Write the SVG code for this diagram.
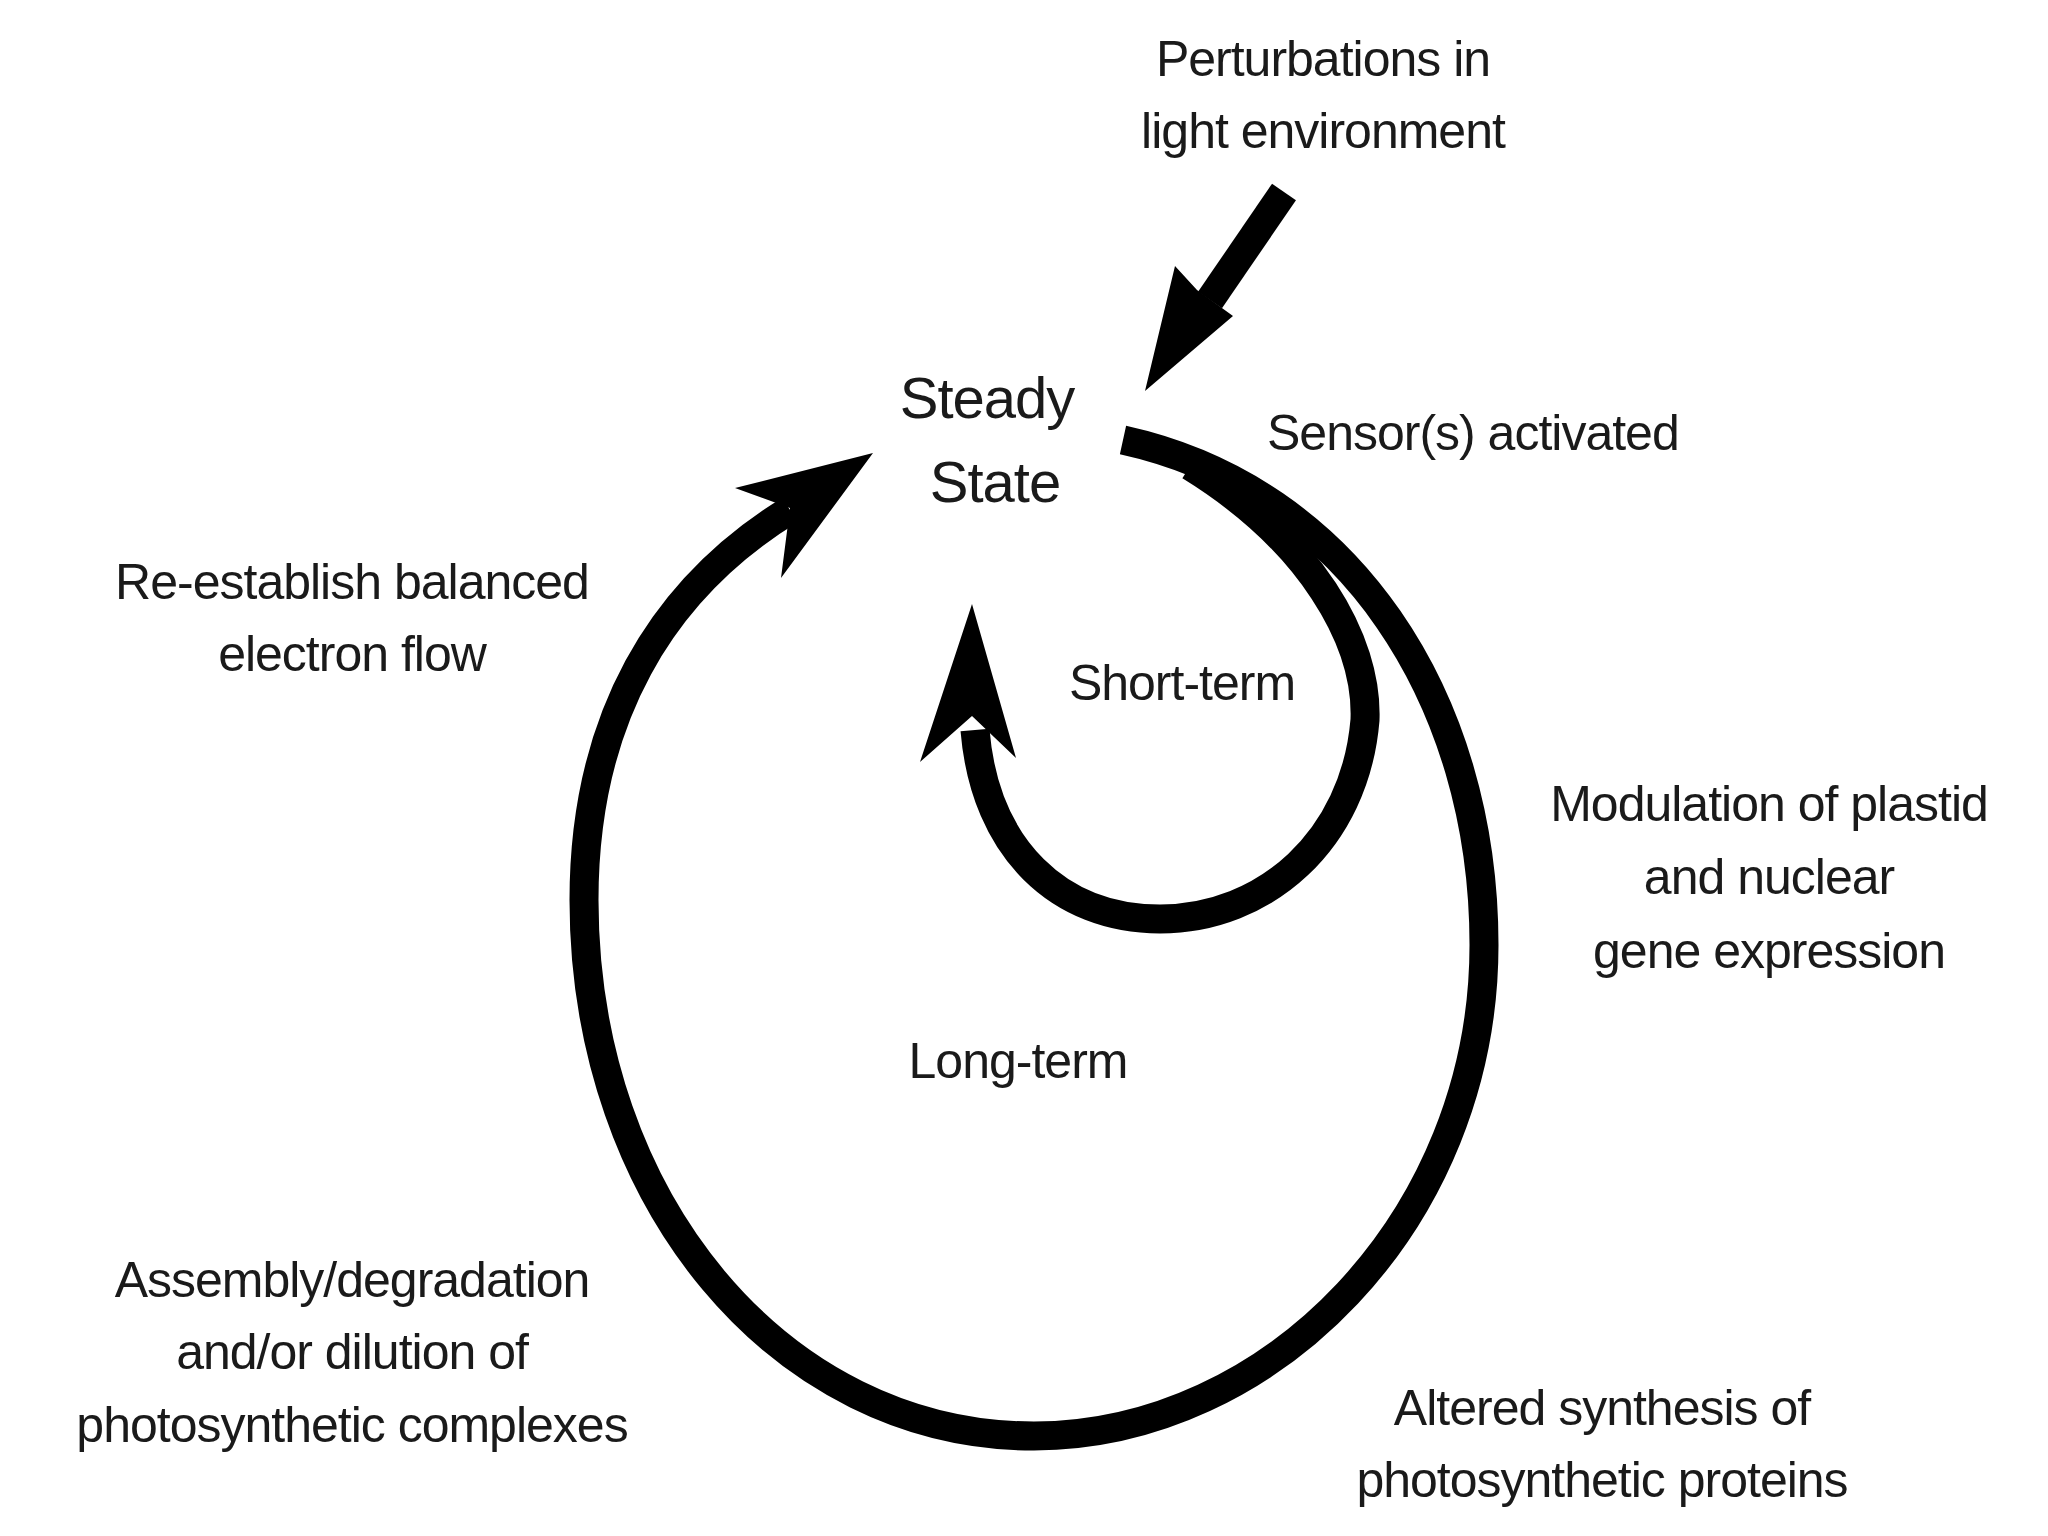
<svg xmlns="http://www.w3.org/2000/svg" width="2048" height="1536" viewBox="0 0 2048 1536">
<style>
text{font-family:"Liberation Sans",Arial,sans-serif;font-size:50px;fill:#1a1a1a;text-anchor:middle;letter-spacing:-1px}
.s{text-anchor:start}
.big{font-size:58px}
.loop{fill:none;stroke:#000;stroke-width:29}
.head{fill:#000}
</style>
<rect width="2048" height="1536" fill="#fff"/>
<g id="connectors">
<path class="loop" d="M1123,440 C1350,490 1484,700 1484,945 C1484,1220 1270,1436 1034,1436 C780,1436 584,1200 584,900 C584,720 660,590 790,510"/>
<polygon class="head" points="873,453 735,488 790,508 781,578"/>
<path class="loop" d="M1190,466 C1310,540 1368,640 1365,720 C1355,840 1265,919 1160,919 C1060,919 985,850 975,730"/>
<polygon class="head" points="972,604 920,762 972,716 1016,758"/>
<path class="loop" d="M1284,192 L1210,300" stroke-width="26"/>
<polygon class="head" points="1145,391 1175,266 1197,290 1233,316"/>
</g>
<g id="steady"><text class="big" x="987" y="418">Steady</text><text class="big" x="995" y="502">State</text></g>
<g id="perturb"><text x="1323" y="76">Perturbations in</text><text x="1323" y="148">light environment</text></g>
<g id="sensor"><text class="s" x="1267" y="450">Sensor(s) activated</text></g>
<g id="short"><text x="1182" y="700">Short-term</text></g>
<g id="long"><text x="1018" y="1078">Long-term</text></g>
<g id="reest"><text x="352" y="599">Re-establish balanced</text><text x="352" y="671">electron flow</text></g>
<g id="modul"><text x="1769" y="821">Modulation of plastid</text><text x="1769" y="894">and nuclear</text><text x="1769" y="968">gene expression</text></g>
<g id="assembly"><text x="352" y="1297">Assembly/degradation</text><text x="352" y="1369">and/or dilution of</text><text x="352" y="1442">photosynthetic complexes</text></g>
<g id="altered"><text x="1602" y="1425">Altered synthesis of</text><text x="1602" y="1497">photosynthetic proteins</text></g>
</svg>
